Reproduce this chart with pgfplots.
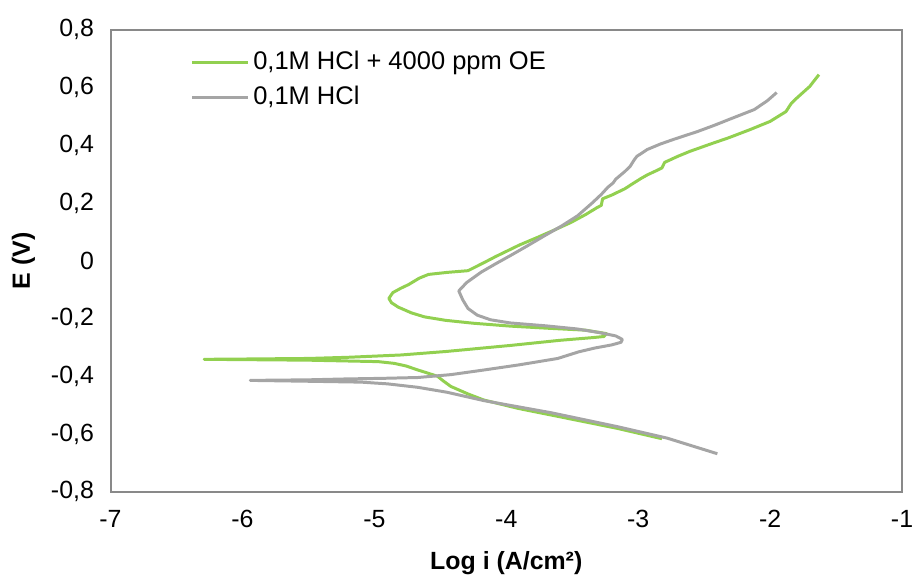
\documentclass[border=0pt]{standalone}
\usepackage{pgfplots}
\pgfplotsset{compat=1.18}
\usepackage{fontspec}
\setmainfont{Liberation Sans}
\definecolor{oegreen}{HTML}{92D050}
\definecolor{blankgray}{HTML}{A5A5A5}
\definecolor{boxgray}{HTML}{898989}
\begin{document}
\fontsize{12.5bp}{15bp}\selectfont
\begin{tikzpicture}
\useasboundingbox (-55.5bp,-42.5bp) rectangle (402.5bp,247bp);
\begin{axis}[
    scale only axis, width=397.5bp, height=232bp,
    xmin=-7, xmax=-1, ymin=-0.8, ymax=0.8,
    xtick={-7,-6,...,-1}, ytick={-0.8,-0.6,...,0.8},
    major tick length=0pt,
    axis line style={boxgray, line width=1bp},
    /pgf/number format/.cd, use comma, fixed, precision=1, assume math mode=true,
    /pgfplots/.cd,
    yticklabel style={xshift=-4bp},
    xticklabel style={yshift=-5bp},
    xlabel={\bfseries Log i (A/cm²)},
    ylabel={\bfseries E (V)},
    xlabel style={yshift=-3bp},
    ylabel style={yshift=-0.5bp},
    legend cell align=left,
    legend style={draw=none, fill=none, at={(0,1)}, anchor=north west,
        xshift=37bp, yshift=-6.5bp, row sep=2.5bp,
        font=\fontsize{12.8bp}{15bp}\selectfont},
    legend image code/.code={\draw[#1] (0bp,0bp) -- (28bp,0bp);},
    every axis plot/.append style={line width=1.5bp, line join=round},
]
\addplot[oegreen] coordinates {
(-2.82,-0.616) (-3.16,-0.580) (-3.54,-0.545) (-3.91,-0.511) (-4.17,-0.482)
(-4.29,-0.461) (-4.42,-0.435) (-4.48,-0.415) (-4.52,-0.400) (-4.60,-0.388)
(-4.67,-0.378) (-4.76,-0.364) (-4.85,-0.355) (-4.97,-0.349) (-5.50,-0.344)
(-6.29,-0.341)
(-6.00,-0.340) (-5.50,-0.338) (-5.20,-0.334) (-4.80,-0.326) (-4.46,-0.314)
(-3.97,-0.293) (-3.59,-0.275) (-3.35,-0.266) (-3.26,-0.262) (-3.24,-0.252)
(-3.40,-0.240) (-3.70,-0.233) (-3.97,-0.226) (-4.25,-0.216) (-4.46,-0.206)
(-4.62,-0.194) (-4.72,-0.180) (-4.82,-0.160) (-4.87,-0.145) (-4.89,-0.130)
(-4.86,-0.110) (-4.80,-0.095) (-4.74,-0.082) (-4.66,-0.060) (-4.59,-0.047)
(-4.45,-0.040) (-4.29,-0.034) (-4.22,-0.018) (-4.16,-0.004) (-4.08,0.015)
(-3.99,0.035) (-3.90,0.055) (-3.76,0.082) (-3.63,0.108) (-3.51,0.133)
(-3.40,0.160) (-3.31,0.185) (-3.28,0.192) (-3.27,0.215) (-3.20,0.228)
(-3.10,0.250) (-3.06,0.262) (-2.98,0.285) (-2.93,0.298) (-2.85,0.315)
(-2.82,0.322) (-2.80,0.341) (-2.70,0.362) (-2.61,0.379) (-2.45,0.405)
(-2.31,0.427) (-2.15,0.455) (-2.00,0.483) (-1.88,0.517) (-1.84,0.545)
(-1.80,0.563) (-1.70,0.604) (-1.63,0.645)
};
\addlegendentry{0,1M HCl + 4000 ppm OE}
\addplot[blankgray] coordinates {
(-2.40,-0.668) (-2.78,-0.614) (-3.16,-0.574) (-3.66,-0.526) (-4.17,-0.484)
(-4.45,-0.455) (-4.67,-0.438) (-4.90,-0.426) (-5.10,-0.420) (-5.50,-0.417)
(-5.94,-0.414)
(-5.50,-0.412) (-5.22,-0.409) (-4.95,-0.407) (-4.67,-0.404) (-4.42,-0.394)
(-4.17,-0.378) (-3.90,-0.360) (-3.61,-0.338) (-3.45,-0.315) (-3.33,-0.302)
(-3.20,-0.291) (-3.13,-0.282) (-3.12,-0.272) (-3.17,-0.260) (-3.30,-0.248)
(-3.46,-0.236) (-3.70,-0.225) (-3.97,-0.215) (-4.12,-0.204) (-4.22,-0.188)
(-4.29,-0.165) (-4.33,-0.135) (-4.36,-0.104) (-4.30,-0.075) (-4.19,-0.039)
(-4.08,-0.010) (-3.97,0.018) (-3.84,0.052) (-3.71,0.087) (-3.58,0.121)
(-3.46,0.156) (-3.35,0.200) (-3.28,0.230) (-3.23,0.255) (-3.19,0.270)
(-3.17,0.283) (-3.10,0.310) (-3.06,0.328) (-3.03,0.350) (-3.01,0.362)
(-2.93,0.386) (-2.83,0.405) (-2.73,0.421) (-2.55,0.448) (-2.42,0.470)
(-2.31,0.490) (-2.12,0.524) (-2.02,0.555) (-1.95,0.583)
};
\addlegendentry{0,1M HCl}
\end{axis}
\end{tikzpicture}
\end{document}
